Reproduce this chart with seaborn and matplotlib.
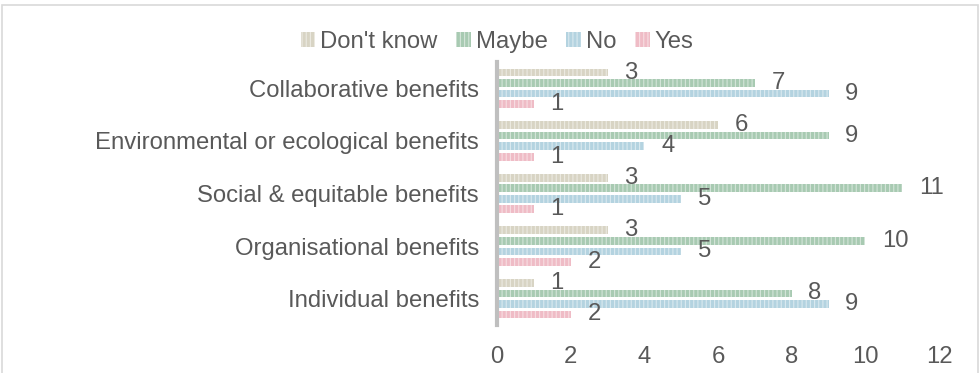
import matplotlib
matplotlib.use("Agg")
import matplotlib.pyplot as plt
import matplotlib.transforms as mtransforms
from matplotlib.patches import Patch, Rectangle
import seaborn as sns
import pandas as pd

categories = ["Collaborative benefits", "Environmental or ecological benefits",
              "Social & equitable benefits", "Organisational benefits", "Individual benefits"]
series = ["Don't know", "Maybe", "No", "Yes"]
dont_know = [3, 6, 3, 3, 1]
maybe = [7, 9, 11, 10, 8]
no = [9, 4, 5, 5, 9]
yes = [1, 1, 1, 2, 2]
x_ticks = [0, 2, 4, 6, 8, 10, 12]

colors = ["#d8d4c4", "#a8cab2", "#b4d3e0", "#efbcc6"]
text_color = "#595959"
FS = 17.2

rows = []
for name, vals in zip(series, [dont_know, maybe, no, yes]):
    for c, v in zip(categories, vals):
        rows.append({"category": c, "series": name, "value": v})
df = pd.DataFrame(rows)

sns.set_style("white")
plt.rcParams["font.family"] = ["Liberation Sans", "DejaVu Sans"]
plt.rcParams["hatch.linewidth"] = 0.8

fig = plt.figure(figsize=(9.8, 3.73), dpi=100)
ax = fig.add_axes([497 / 980, 1 - 325 / 373, (939 - 497) / 980, (325 - 62) / 373])

sns.barplot(data=df, y="category", x="value", hue="series", order=categories,
            hue_order=series, palette=colors, orient="h", width=0.8, gap=0.27,
            legend=False, ax=ax, saturation=1)

for cont, name in zip(ax.containers, series):
    for p in cont.patches:
        p.set_hatch("||||")
        p.set_edgecolor((1, 1, 1, 0.5))
        p.set_linewidth(0)
    ax.bar_label(cont, labels=[str(int(v)) for v in cont.datavalues], padding=12,
                 fontsize=FS, color=text_color)
for t in ax.texts:
    t.set_va("center")
    t.set_transform(t.get_transform() + mtransforms.ScaledTranslation(0, -4 / 100, fig.dpi_scale_trans))

ax.set_xlim(0, 12)
ax.set_ylim(4.5, -0.5)
ax.set_xticks(x_ticks)
ax.set_xticklabels([str(v) for v in x_ticks])
ax.set_xlabel("")
ax.set_ylabel("")
ax.tick_params(axis="both", length=0, labelsize=FS, colors=text_color)
ax.tick_params(axis="y", pad=13)
ax.tick_params(axis="x", pad=15)
for s in ["top", "right", "bottom"]:
    ax.spines[s].set_visible(False)
ax.spines["left"].set_color("#bfbfbf")
ax.spines["left"].set_linewidth(3)
ax.grid(False)

handles = [Patch(facecolor=c, edgecolor=(1, 1, 1, 0.5), hatch="||||", linewidth=0, label=s)
           for c, s in zip(colors, series)]
fig.legend(handles=handles, loc="center", bbox_to_anchor=(497 / 980, 1 - 42 / 373), ncol=4,
           frameon=False, fontsize=FS, handlelength=0.6, handleheight=0.6, handletextpad=0.2,
           columnspacing=0.8, labelcolor=text_color)

fig.patches.append(Rectangle((2 / 980, -0.05), 976 / 980, 1.05 - 5 / 373, transform=fig.transFigure,
                             fill=False, edgecolor="#d9d9d9", linewidth=1.2))

fig.savefig("out.png", dpi=100)
